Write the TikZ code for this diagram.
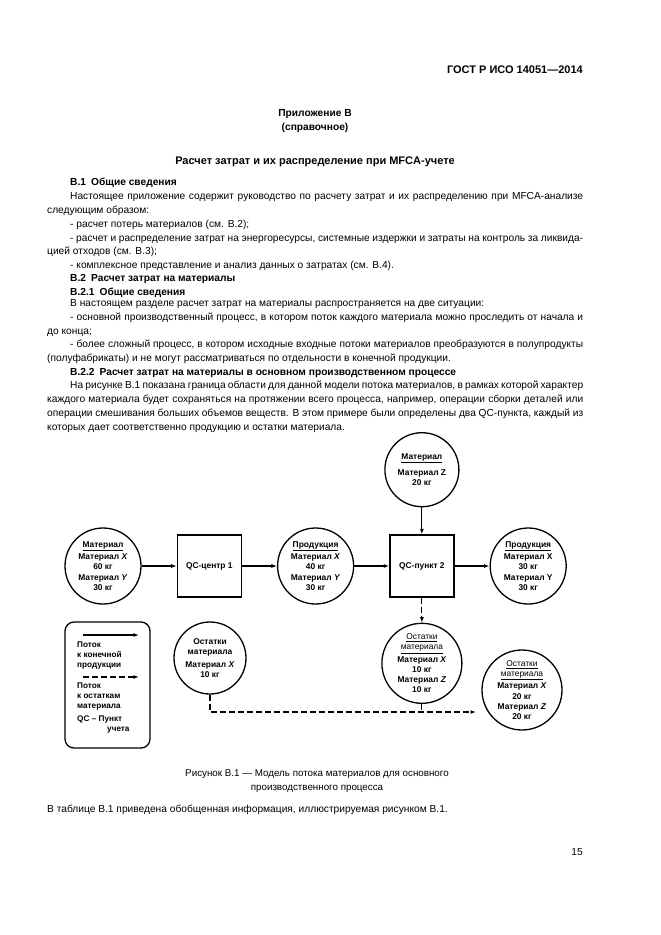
\documentclass[tikz,border=0pt]{standalone}
\usepackage{fontspec}
\setmainfont{Liberation Sans}
\usetikzlibrary{arrows.meta,positioning}

\newcommand\bodyfont{\fontsize{10.2}{13.9}\selectfont\hyphenpenalty=10000}
\newcommand\flowfont{\fontsize{8.4}{10.2}\selectfont\bfseries}
\newcommand\legendfont{\fontsize{8.2}{10}\selectfont\bfseries}
\newcommand\flowhead[1]{\setbox0\hbox{#1}\vtop{\hbox{#1}\kern1.2pt\hrule width\wd0 height 0.9pt\kern1.8pt}}

\begin{document}
\begin{tikzpicture}[
    x=1pt, y=-1pt,
    node distance=35pt,
    font=\bodyfont,
    txt/.style={anchor=north west, inner sep=0pt, text width=536pt, align=justify},
    head/.style={anchor=west, inner sep=0pt, font=\bodyfont\bfseries},
    flow/.style={draw, circle, line width=1.3pt, minimum size=76pt, inner sep=0pt, align=center, font=\flowfont},
    qcbox/.style={draw, rectangle, line width=1.3pt, minimum width=64pt, minimum height=62pt, font=\flowfont},
    lgtext/.style={anchor=north west, inner sep=0pt, align=left, font=\legendfont},
    arrow/.style={-{Latex[length=5.5pt,width=4pt]}, line width=1.1pt},
    darrow/.style={arrow, dash pattern=on 6pt off 3pt},
    dline/.style={line width=1.1pt, dash pattern=on 6pt off 3pt}
]
    \useasboundingbox[fill=white] (0,0) rectangle (661,935);

    % Page head
    \node[anchor=east, inner sep=0pt, font=\fontsize{11}{13}\selectfont\bfseries] (gost) at (583,70) {ГОСТ Р ИСО 14051—2014};
    \node[align=center, inner sep=0pt, font=\bodyfont\bfseries] (annex) at (315,121) {Приложение В\\(справочное)};
    \node[inner sep=0pt, font=\fontsize{11}{13}\selectfont\bfseries] (title) at (315,162) {Расчет затрат и их распределение при MFCA-учете};

    % B.1
    \node[head] (secone) at (70,183) {В.1\enspace Общие сведения};
    \node[txt] (pone) at (47,192) {\hspace*{23pt}Настоящее приложение содержит руководство по расчету затрат и их распределению при MFCA-анализе\linebreak следующим образом:\\
        \hspace*{23pt}- расчет потерь материалов (см. В.2);\\
        \hspace*{23pt}- расчет и распределение затрат на энергоресурсы, системные издержки и затраты на контроль за ликвида-\linebreak цией отходов (см. В.3);\\
        \hspace*{23pt}- комплексное представление и анализ данных о затратах (см. В.4).};

    % B.2
    \node[head] (sectwo) at (70,279) {В.2\enspace Расчет затрат на материалы};
    \node[head] (sectwoone) at (70,293) {В.2.1\enspace Общие сведения};
    \node[txt] (ptwo) at (47,299) {\hspace*{23pt}В настоящем разделе расчет затрат на материалы распространяется на две ситуации:\\
        \hspace*{23pt}- основной производственный процесс, в котором поток каждого материала можно проследить от начала и\linebreak до конца;\\
        \hspace*{23pt}- более сложный процесс, в котором исходные входные потоки материалов преобразуются в полупродукты\linebreak (полуфабрикаты) и не могут рассматриваться по отдельности в конечной продукции.};
    \node[head] (sectwotwo) at (70,373) {В.2.2\enspace Расчет затрат на материалы в основном производственном процессе};
    \node[txt] (pthree) at (47,381) {\hspace*{23pt}На рисунке В.1 показана граница области для данной модели потока материалов, в рамках которой характер\linebreak каждого материала будет сохраняться на протяжении всего процесса, например, операции сборки деталей или\linebreak операции смешивания больших объемов веществ. В этом примере были определены два QC-пункта, каждый из\linebreak которых дает соответственно продукцию и остатки материала.};

    % Flow model
    \node[flow] (matin) at (103,566) {\flowhead{Материал}\\Материал \textit{X}\\60 кг\\Материал \textit{Y}\\30 кг};
    \node[qcbox, right=of matin] (qcone) {QC-центр 1};
    \node[flow, right=of qcone] (prodone) {\flowhead{Продукция}\\Материал \textit{X}\\40 кг\\Материал \textit{Y}\\30 кг};
    \node[qcbox, right=of prodone] (qctwo) {QC-пункт 2};
    \node[flow, right=of qctwo] (prodtwo) {\flowhead{Продукция}\\Материал X\\30 кг\\Материал Y\\30 кг};
    \node[flow, minimum size=74pt, above=27pt of qctwo] (matz) {\flowhead{Материал}\\[4pt]Материал Z\\20 кг};
    \node[flow, minimum size=80pt, below=25pt of qctwo] (resttwo) {\flowhead{\mdseries Остатки}\\\flowhead{\mdseries материала}\\Материал \textit{X}\\10 кг\\Материал \textit{Z}\\10 кг};
    \node[flow, minimum size=72pt] (restone) at (210,658) {Остатки\\материала\\[2pt]Материал \textit{X}\\10 кг};
    \node[flow, minimum size=80pt] (restthree) at (522,690) {\flowhead{\mdseries Остатки}\\\flowhead{\mdseries материала}\\Материал \textit{X}\\20 кг\\Материал \textit{Z}\\20 кг};
    \coordinate (restend) at (476,712);

    \draw[arrow] (matin) -- (qcone);
    \draw[arrow] (qcone) -- (prodone);
    \draw[arrow] (prodone) -- (qctwo);
    \draw[arrow] (qctwo) -- (prodtwo);
    \draw[arrow] (matz) -- (qctwo);
    \draw[darrow] (qctwo) -- (resttwo);
    \draw[darrow] (restone.south) |- (restend);
    \draw[dline] (resttwo.south) -- (resttwo.south |- restend);

    % Legend
    \node[draw, line width=1.3pt, rounded corners=9pt, minimum width=85pt, minimum height=126pt] (legend) at (107.5,685) {};
    \coordinate (lgsa) at (83,635);
    \coordinate (lgsb) at (139,635);
    \draw[arrow] (lgsa) -- (lgsb);
    \node[lgtext] (lgone) at (77,642) {Поток\\к конечной\\продукции};
    \coordinate (lgda) at (83,677);
    \coordinate (lgdb) at (139,677);
    \draw[darrow] (lgda) -- (lgdb);
    \node[lgtext] (lgtwo) at (77,683) {Поток\\к остаткам\\материала};
    \node[lgtext] (lgthree) at (77,716) {QC – Пункт\\\hspace*{30pt}учета};

    % Caption and closing text
    \node[align=center, inner sep=0pt, font=\fontsize{9.8}{14}\selectfont] (caption) at (317,781) {Рисунок В.1 — Модель потока материалов для основного\\производственного процесса};
    \node[anchor=west, inner sep=0pt] (pfour) at (47,810) {В таблице В.1 приведена обобщенная информация, иллюстрируемая рисунком В.1.};
    \node[anchor=east, inner sep=0pt] (pageno) at (583,852) {15};
\end{tikzpicture}
\end{document}
